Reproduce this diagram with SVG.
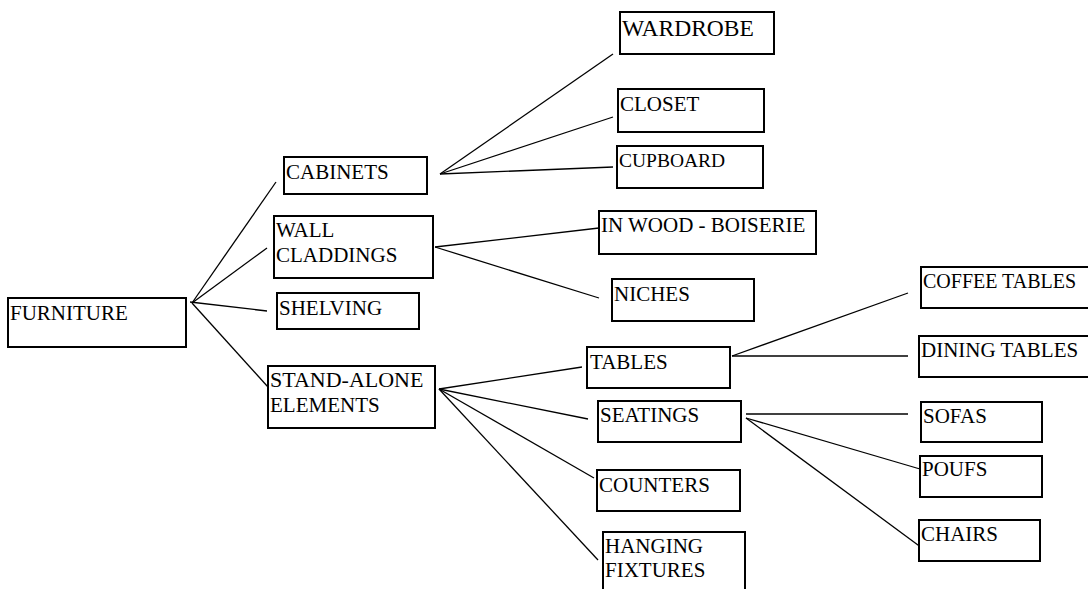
<svg xmlns="http://www.w3.org/2000/svg" width="1088" height="589" viewBox="0 0 1088 589">
<style>
.box{fill:#fff;stroke:#000;stroke-width:2}
.t{font-family:"Liberation Serif","Times New Roman",serif;font-size:21px;fill:#000}
.c line{stroke:#000;stroke-width:1.3}
</style>
<rect width="1088" height="589" fill="#fff"/>
<g class="c" id="connectors">
<line x1="192" y1="303" x2="276" y2="182"/>
<line x1="192" y1="303" x2="267" y2="248"/>
<line x1="190" y1="302" x2="267" y2="311"/>
<line x1="192" y1="303" x2="268" y2="387"/>
<line x1="440" y1="174" x2="613" y2="54"/>
<line x1="440" y1="174" x2="613" y2="117"/>
<line x1="440" y1="174" x2="613" y2="167"/>
<line x1="435" y1="247" x2="599" y2="228"/>
<line x1="435" y1="247" x2="599" y2="298"/>
<line x1="439" y1="389" x2="582" y2="367"/>
<line x1="439" y1="389" x2="588" y2="419"/>
<line x1="439" y1="389" x2="594" y2="478"/>
<line x1="439" y1="389" x2="598" y2="560"/>
<line x1="732" y1="356" x2="908" y2="293"/>
<line x1="732" y1="356" x2="908" y2="356"/>
<line x1="746" y1="414" x2="908" y2="414"/>
<line x1="746" y1="418" x2="920" y2="469"/>
<line x1="746" y1="418" x2="922" y2="548"/>
</g>
<g id="furniture"><rect class="box" x="8" y="298" width="178" height="49"/><text class="t" x="10" y="320">FURNITURE</text></g>
<g id="cabinets"><rect class="box" x="284" y="157" width="143" height="37"/><text class="t" x="286" y="179">CABINETS</text></g>
<g id="wall-claddings"><rect class="box" x="274" y="216" width="159" height="62"/><text class="t" x="276" y="237">WALL</text><text class="t" x="276" y="262">CLADDINGS</text></g>
<g id="shelving"><rect class="box" x="277" y="293" width="142" height="36"/><text class="t" x="279" y="315">SHELVING</text></g>
<g id="stand-alone"><rect class="box" x="268" y="366" width="167" height="62"/><text class="t" x="270" y="387" style="font-size:22px">STAND-ALONE</text><text class="t" x="270" y="412">ELEMENTS</text></g>
<g id="wardrobe"><rect class="box" x="620" y="12" width="154" height="42"/><text class="t" x="622" y="36" style="font-size:23.5px">WARDROBE</text></g>
<g id="closet"><rect class="box" x="618" y="89" width="146" height="43"/><text class="t" x="620" y="111">CLOSET</text></g>
<g id="cupboard"><rect class="box" x="617" y="146" width="146" height="42"/><text class="t" x="619" y="167" style="font-size:19.5px">CUPBOARD</text></g>
<g id="in-wood"><rect class="box" x="599" y="211" width="217" height="43"/><text class="t" x="601" y="232">IN WOOD - BOISERIE</text></g>
<g id="niches"><rect class="box" x="612" y="279" width="142" height="42"/><text class="t" x="614" y="301">NICHES</text></g>
<g id="tables"><rect class="box" x="587" y="347" width="143" height="41"/><text class="t" x="590" y="369">TABLES</text></g>
<g id="seatings"><rect class="box" x="598" y="401" width="143" height="41"/><text class="t" x="600" y="422">SEATINGS</text></g>
<g id="counters"><rect class="box" x="597" y="470" width="143" height="41"/><text class="t" x="599" y="492">COUNTERS</text></g>
<g id="hanging-fixtures"><rect class="box" x="603" y="532" width="142" height="70"/><text class="t" x="605" y="553">HANGING</text><text class="t" x="605" y="577">FIXTURES</text></g>
<g id="coffee-tables"><rect class="box" x="921" y="267" width="175" height="41"/><text class="t" x="923" y="288" style="font-size:20px">COFFEE TABLES</text></g>
<g id="dining-tables"><rect class="box" x="919" y="336" width="175" height="41"/><text class="t" x="921" y="357">DINING TABLES</text></g>
<g id="sofas"><rect class="box" x="921" y="402" width="121" height="40"/><text class="t" x="923" y="423">SOFAS</text></g>
<g id="poufs"><rect class="box" x="920" y="456" width="122" height="41"/><text class="t" x="922" y="476">POUFS</text></g>
<g id="chairs"><rect class="box" x="919" y="520" width="121" height="41"/><text class="t" x="921" y="541">CHAIRS</text></g>
</svg>
